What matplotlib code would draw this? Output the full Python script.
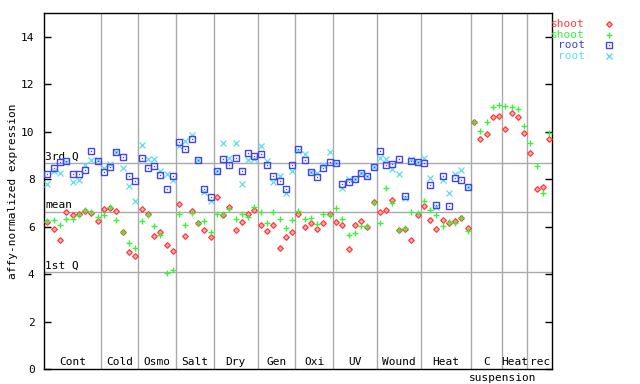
import matplotlib
matplotlib.use("Agg")
import matplotlib.pyplot as plt
import numpy as np

plt.rcParams['font.family'] = ['DejaVu Sans Mono']

groups = ["Cont", "Cold", "Osmo", "Salt", "Dry", "Gen", "Oxi", "UV", "Wound", "Heat", "C", "Heat", "rec"]
group_sizes = [9, 6, 6, 6, 7, 6, 6, 7, 7, 8, 5, 4, 4]

shoot_red = [6.18, 5.90, 5.44, 6.62, 6.48, 6.52, 6.68, 6.59, 6.25,
             6.73, 6.80, 6.66, 5.78, 4.92, 4.75,
             6.73, 6.52, 5.59, 5.78, 5.21, 4.96,
             6.95, 5.59, 6.66, 6.14, 5.85, 5.58,
             7.24, 6.48, 6.82, 5.85, 6.18, 6.52, 6.69,
             6.06, 5.80, 6.06, 5.09, 5.55, 5.76,
             6.52, 6.00, 6.14, 5.89, 6.14, 6.52,
             6.18, 6.06, 5.04, 6.06, 6.23, 6.00, 7.03,
             6.61, 6.69, 7.11, 5.86, 5.89, 5.42, 6.48,
             6.86, 6.27, 5.89, 6.27, 6.14, 6.23, 6.35, 5.93,
             10.41, 9.69, 9.90, 10.62, 10.68,
             10.11, 10.79, 10.62, 9.94,
             9.10, 7.58, 7.66, 9.69]

shoot_green = [6.25, 6.28, 6.08, 6.31, 6.34, 6.48, 6.70, 6.63, 6.40,
               6.48, 6.82, 6.28, 5.76, 5.30, 5.09,
               6.24, 6.48, 6.02, 5.64, 4.03, 4.17,
               6.52, 6.06, 6.57, 6.14, 6.24, 5.76,
               6.52, 6.52, 6.73, 6.31, 6.52, 6.40, 6.82,
               6.63, 6.14, 6.61, 6.31, 5.93, 6.27,
               6.65, 6.31, 6.35, 6.10, 6.52, 6.48,
               6.78, 6.31, 5.64, 5.72, 6.02, 6.02, 6.99,
               6.14, 7.62, 6.99, 5.85, 5.93, 6.61, 6.57,
               7.07, 6.69, 6.48, 6.02, 6.18, 6.14, 6.35, 5.80,
               10.41, 10.03, 10.41, 11.04, 11.13,
               11.09, 11.04, 10.96, 10.24,
               9.52, 8.55, 7.41, 9.94]

root_blue = [8.22, 8.47, 8.72, 8.75, 8.21, 8.21, 8.38, 9.20, 8.75,
             8.30, 8.51, 9.13, 8.93, 8.13, 7.92,
             8.89, 8.47, 8.55, 8.17, 7.58, 8.13,
             9.56, 9.27, 9.69, 8.80, 7.58, 7.24,
             8.34, 8.85, 8.59, 8.89, 8.34, 9.10, 8.97,
             9.06, 8.59, 8.13, 7.92, 7.58, 8.59,
             9.27, 8.80, 8.32, 8.09, 8.47, 8.72,
             8.68, 7.79, 7.87, 8.00, 8.25, 8.13, 8.51,
             9.18, 8.59, 8.64, 8.85, 7.28, 8.76, 8.72,
             8.68, 7.75, 6.90, 8.13, 6.86, 8.04, 7.96, 7.66]

root_cyan = [7.80, 8.37, 8.25, 8.72, 7.87, 7.98, 8.60, 8.80, 8.83,
             8.49, 8.65, 9.14, 8.47, 7.71, 7.07,
             9.44, 8.85, 8.85, 8.34, 8.21, 7.97,
             9.40, 9.60, 9.85, 8.80, 7.46, 7.08,
             8.34, 9.52, 8.89, 9.52, 7.79, 8.80, 8.87,
             9.41, 8.76, 7.90, 8.13, 7.41, 8.37,
             9.20, 9.06, 8.30, 8.25, 8.60, 9.14,
             8.68, 7.65, 8.00, 8.00, 8.25, 8.13, 8.51,
             8.89, 8.85, 8.42, 8.21, 7.22, 8.85, 8.72,
             8.89, 8.04, 6.85, 7.96, 7.41, 8.21, 8.38, 7.66]

quartiles = {"3rd Q": 8.68, "mean": 6.62, "1st Q": 4.07}

RED = '#ff3b3b'
GREEN = '#3ef03e'
BLUE = '#4343e6'
CYAN = '#5fdcec'
GRID = '#aaaaaa'

fig = plt.figure(figsize=(6.4, 3.84), dpi=100)
ax = fig.add_axes([0.0692, 0.0391, 0.7939, 0.9263])
n = sum(group_sizes)
ax.set_xlim(-0.5, n - 0.5)
ax.set_ylim(0, 15)

# reference lines
for name, v in quartiles.items():
    ax.axhline(v, color=GRID, lw=1, zorder=1)
    ax.text(-0.35, v + 0.08, name, fontsize=8, ha='left', va='bottom', zorder=2)

# group separators and labels
bounds = np.cumsum([0] + group_sizes) - 0.5
for b in bounds[1:-1]:
    ax.axvline(b, color=GRID, lw=1, zorder=1)
for i, g in enumerate(groups):
    c = (bounds[i] + bounds[i + 1]) / 2
    ax.text(c, 0.08, g, fontsize=8, ha='center', va='bottom', zorder=2)
ax.text(bounds[11], -0.40, "suspension", fontsize=8, ha='center', va='center', clip_on=False)

x_all = np.arange(n)
x_root = np.arange(len(root_blue))

ax.plot(x_root, root_cyan, linestyle='none', marker='x', ms=4, mew=0.9, color=CYAN, zorder=3)
ax.plot(x_root, root_blue, linestyle='none', marker='s', ms=4, mew=1.0, mfc='none', mec=BLUE, zorder=4)
ax.plot(x_root, root_blue, linestyle='none', marker='s', ms=0.9, mew=0, color=BLUE, zorder=4)
ax.plot(x_all, shoot_red, linestyle='none', marker='D', ms=2.9, mew=0.9, mfc='#ffb0b0', mec=RED, zorder=5)
ax.plot(x_all, shoot_green, linestyle='none', marker='+', ms=5, mew=1.0, color=GREEN, zorder=6)

ax.set_yticks(np.arange(0, 15, 2))
ax.tick_params(axis='y', direction='in', length=5, width=1, labelsize=8, right=True, pad=7)
ax.tick_params(axis='x', bottom=False, labelbottom=False)
for s in ax.spines.values():
    s.set_linewidth(1)
ax.set_ylabel("affy-normalized expression", fontsize=8, labelpad=2)

# legend
leg = [("shoot", RED, 'D'), ("shoot", GREEN, '+'), ("root", BLUE, 's'), ("root", CYAN, 'x')]
for k, (lab, col, mk) in enumerate(leg):
    yf = 1 - (24 + 10.7 * k) / 384
    fig.text(585 / 640, yf, lab, color=col, fontsize=8, ha='right', va='center')
    if mk == 'D':
        fig.lines.append(plt.Line2D([609 / 640], [yf], transform=fig.transFigure, marker='D', ms=2.9, mew=0.9,
                                    mfc='#ffb0b0', mec=col, linestyle='none'))
    elif mk == 's':
        fig.lines.append(plt.Line2D([609 / 640], [yf], transform=fig.transFigure, marker='s', ms=4, mew=1.0,
                                    mfc='none', mec=col, linestyle='none'))
        fig.lines.append(plt.Line2D([609 / 640], [yf], transform=fig.transFigure, marker='s', ms=0.9, mew=0,
                                    color=col, linestyle='none'))
    else:
        fig.lines.append(plt.Line2D([609 / 640], [yf], transform=fig.transFigure, marker=mk,
                                    ms=5 if mk == '+' else 4, mew=1.0, color=col, linestyle='none'))

fig.savefig("out.png", dpi=100)
